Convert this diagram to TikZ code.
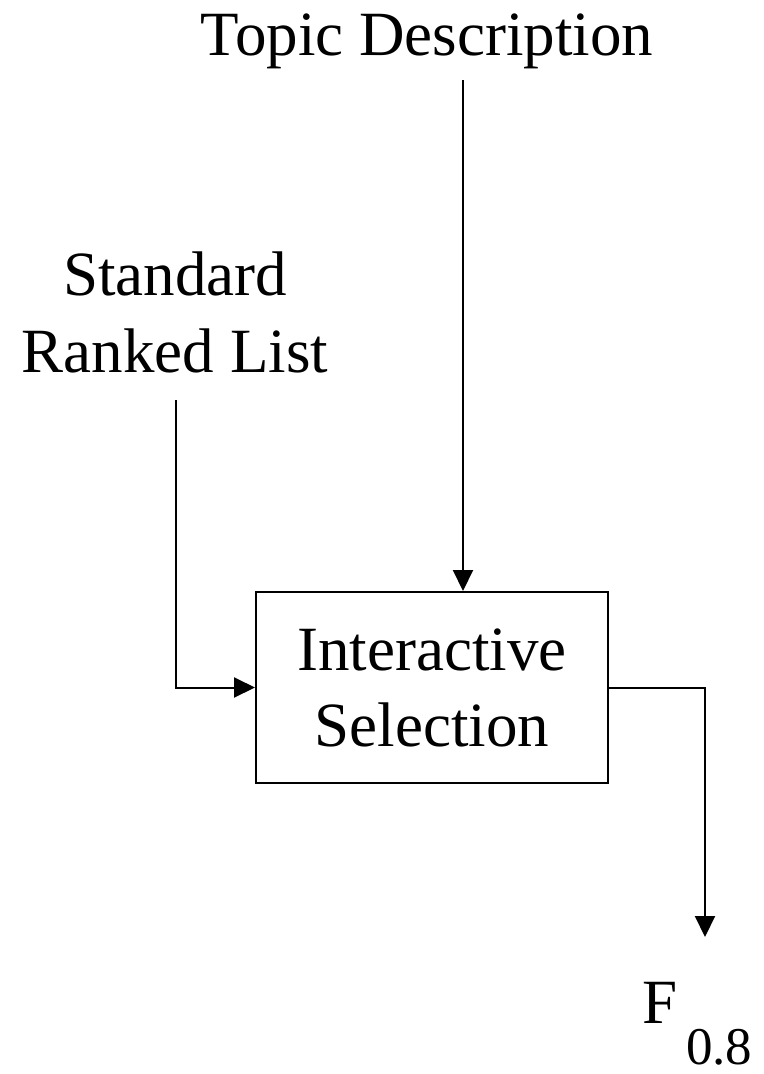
\documentclass[tikz,border=0pt]{standalone}
\usepackage{fontspec}
\setmainfont{Liberation Serif}
\usetikzlibrary{arrows.meta}
\begin{document}
\begin{tikzpicture}[x=1bp,y=-1bp,
  lbl/.style={inner sep=0pt, font=\fontsize{63bp}{77bp}\selectfont, align=center},
  conn/.style={line width=2bp, -{Triangle[length=21bp,width=20bp]}},
  boxstyle/.style={draw, line width=2bp, minimum width=352bp, minimum height=191bp, inner sep=0pt, font=\fontsize{63bp}{76bp}\selectfont, align=center}]
\useasboundingbox (0,0) rectangle (764,1074);
\node[lbl, anchor=base] (topic) at (427,55) {Topic Description};
\node[lbl] (std) at (175,312) {Standard\\Ranked List};
\node[boxstyle] (box) at (432,687.5) {Interactive\\Selection};
\node[lbl, anchor=base west] (f) at (642,1023) {F};
\node[inner sep=0pt, text depth=0pt, font=\fontsize{53bp}{60bp}\selectfont, anchor=base west] (sub) at (686,1064) {0.8};
\coordinate (tstart) at (463,80);
\coordinate (sstart) at (176,400);
\coordinate (fend) at (705,937);
\draw[conn] (tstart) -- (tstart |- box.north);
\draw[conn] (sstart) |- (box.west);
\draw[conn] (box.east) -| (fend);
\end{tikzpicture}
\end{document}
